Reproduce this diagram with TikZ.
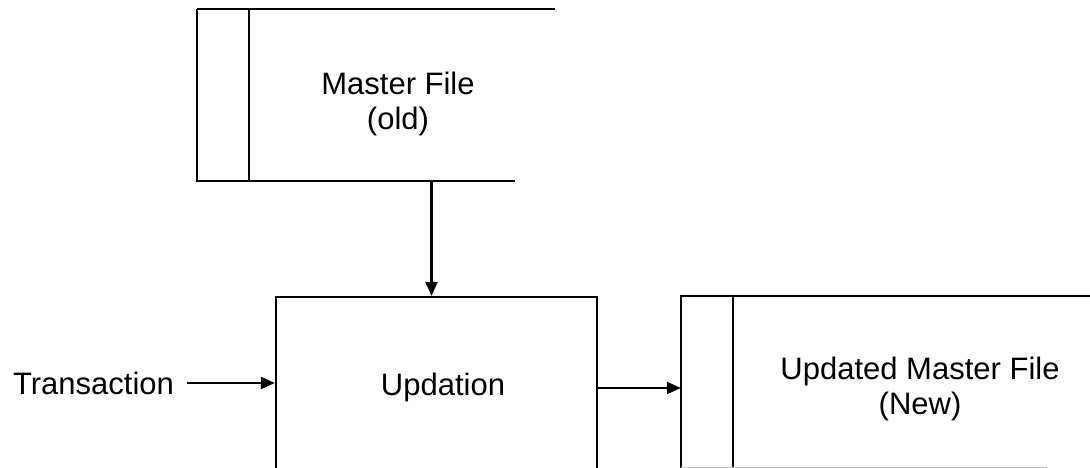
\documentclass[tikz,border=0pt]{standalone}
\usepackage{fontspec}
\setmainfont{Liberation Sans}
\usetikzlibrary{positioning,arrows.meta,calc}

\begin{document}
\begin{tikzpicture}[
    x=1pt, y=1pt,
    line width=2.2pt,
    lbl/.style={align=center, font=\fontsize{31}{35}\selectfont, inner sep=0pt},
    area/.style={draw=none, inner sep=0pt},
    proc/.style={draw, line width=2.2pt, inner sep=0pt},
    arr/.style={-{Triangle[length=14pt, width=12pt]}, line width=2.2pt}]
  \useasboundingbox (0,0) rectangle (1090,468);
  % data stores
  \node[area, minimum width=356pt, minimum height=170pt] (old) at (376,373) {};
  \node[area, minimum width=408pt, minimum height=180pt] (new) at (886,81) {};
  \draw (old.north west) -- (old.north east);
  \draw (old.north west) -- (old.south west) -- ++(318,0);
  \draw ([xshift=52pt]old.north west) -- ([xshift=52pt]old.south west);
  \draw (new.north east) -- (new.north west) -- (new.south west);
  \draw ([xshift=52pt]new.north west) -- ([xshift=52pt]new.south west);
  \draw[gray!45, line width=1pt] (new.south west) ++(0,11) -- ++(366,0);
  \node[lbl] (oldlbl) at (398,364) {Master File\\(old)};
  \node[lbl] (newlbl) at (920,79.5) {Updated Master File\\(New)};
  % process
  \node[proc, minimum width=321pt, minimum height=178pt] (upd) at (436.5,82) {};
  \node[lbl] (updlbl) at (443,81) {Updation};
  \node[lbl, anchor=east] (trans) at (175,85) {Transaction};
  % flows
  \draw[arr] ([xshift=-5pt]upd.north |- old.south) -- ([xshift=-5pt]upd.north);
  \draw[arr, shorten <=12pt] (trans.east) -- (trans.east -| upd.west);
  \draw[arr] ([yshift=-2pt]upd.east) -- ([yshift=-2pt]upd.east -| new.west);
\end{tikzpicture}
\end{document}
